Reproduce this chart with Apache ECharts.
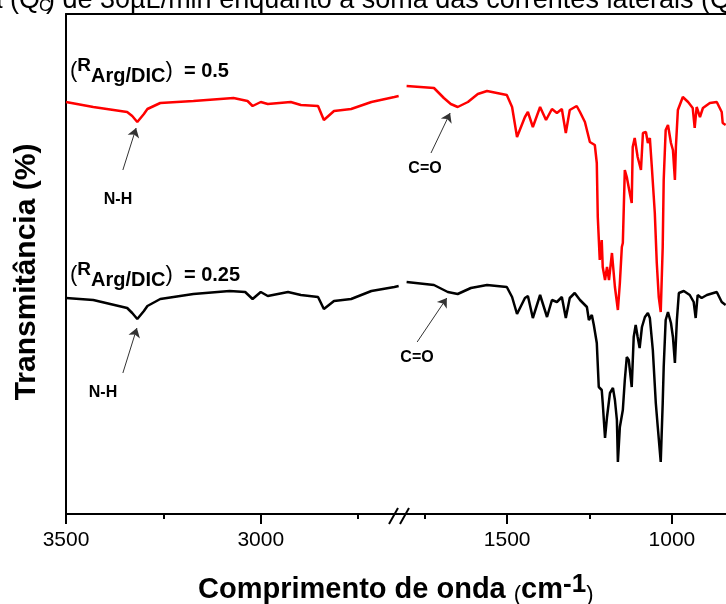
<!DOCTYPE html>
<html><head><meta charset="utf-8">
<script src="https://cdn.jsdelivr.net/npm/echarts@6/dist/echarts.min.js"></script>
<style>html,body{margin:0;padding:0;background:#fff}#c{width:726px;height:604px}</style>
</head><body><div id="c"></div>
<script>
// ---- data (wavenumber in cm-1, transmittance in arbitrary offset units) ----
const redLeftWn = [3500,3430,3343,3330,3317,3300,3291,3258,3173,3070,3034,3021,3000,2982,2923,2897,2853,2838,2812,2768,2716,2657,2646];
const redLeftT  = [412,407,402,398,392,400,405,411,413,416,413,408,412,410,412,409,408,394,403,405,412,417,418];
const blackLeftWn = [3500,3430,3343,3330,3317,3300,3291,3258,3173,3080,3040,3021,3000,2982,2930,2897,2853,2838,2812,2768,2716,2657,2646];
const blackLeftT  = [216,214,206,201,195,203,208,215,220,223,222,215,222,218,222,219,217,205,213,215,223,227,228];
const redRightWn = [1805,1722,1692,1671,1650,1619,1589,1561,1501,1485,1470,1446,1437,1422,1400,1382,1364,1349,1334,1322,1310,1289,
  1279,1264,1249,1234,1228,1225,1219,1213,1210,1203,1197,1191,1182,1179,1173,1164,1158,1152,1149,1143,1137,1128,1122,1119,1113,1104,1094,1088,1079,1073,1067,1061,1052,1046,1040,1034,1028,1025,1019,1012,1003,997,991,988,982,967,951,937,931,925,915,906,885,864,849,846,837];
const redRightT  = [428,426,416,410,407,412,420,423,419,407,377,397,402,387,407,394,405,401,405,381,404,408,
  402,392,372,369,351,297,254,274,247,234,247,234,261,262,227,204,231,267,271,344,337,321,311,367,376,357,344,381,382,371,376,347,301,251,217,202,267,334,384,389,371,364,334,367,404,417,412,406,386,407,397,406,411,412,402,391,389];
const blackRightWn = [1805,1722,1680,1650,1610,1561,1501,1485,1470,1446,1437,1422,1400,1379,1364,1349,1334,1322,1310,1295,
  1279,1270,1258,1252,1243,1237,1228,1222,1213,1210,1203,1197,1188,1179,1173,1167,1164,1158,1149,1143,1137,1131,1122,1116,1110,1104,1098,1091,1082,1073,1067,1058,1049,1043,1034,1028,1025,1019,1012,1003,997,991,985,979,964,946,934,928,922,910,894,864,849,837];
const blackRightT  = [232,229,222,220,226,229,227,217,200,216,218,196,219,197,214,212,217,196,216,221,
  214,211,207,194,199,189,171,127,124,111,76,97,121,126,114,94,52,87,104,134,157,154,127,177,189,177,166,187,197,201,196,164,111,87,52,111,147,194,202,191,177,151,194,221,223,219,212,196,219,216,219,222,212,209];

const leftTicksMajor = [3500, 3000];
const leftTicksMinor = [3250, 2750];
const rightTicksMajor = [1500, 1000];
const rightTicksMinor = [1750, 1250];

// annotation arrows: [fromWn, fromT, toWn, toT]
const arrowNHTop = [3354, 344, 3320, 386];
const arrowNHBottom = [3354, 141, 3318, 186];
const arrowCOTop = [1731, 361, 1673, 401];
const arrowCOBottom = [1773, 172, 1683, 216];

const labelTop = '0.5';
const labelBottom = '0.25';

function zip(a, b) { return a.map((v, i) => [v, b[i]]); }

const FONT = "'Liberation Sans', Arial, sans-serif";
const chart = echarts.init(document.getElementById('c'), null, {renderer: 'canvas'});

function baseX(grid, min, max) {
  return {
    type: 'value', gridIndex: grid, min: min, max: max, inverse: true,
    splitLine: {show: false}, axisPointer: {show: false}
  };
}
function arrow(a) {
  return [{coord: [a[0], a[1]], symbol: 'none'}, {coord: [a[2], a[3]], symbol: 'arrow'}];
}
function markArrows(list) {
  return {
    silent: true, animation: false,
    symbolSize: 9,
    label: {show: false},
    lineStyle: {color: '#333', width: 1, type: 'solid'},
    emphasis: {disabled: true},
    data: list.map(arrow)
  };
}

const L = [3500, 2640];
const R = [1822, 836];
const fmt = v => String(v);

const option = {
  animation: false,
  backgroundColor: '#fff',
  grid: [
    {left: 66, width: 335, top: 14, bottom: 90},
    {left: 401, right: 0, top: 14, bottom: 90}
  ],
  xAxis: [
    Object.assign(baseX(0, L[1], L[0]), {
      position: 'bottom',
      axisLine: {show: true, lineStyle: {color: '#000', width: 2}},
      axisTick: {show: true, length: 10, lineStyle: {color: '#000', width: 2}, customValues: leftTicksMajor},
      axisLabel: {show: true, color: '#000', fontSize: 21, fontFamily: FONT, margin: 16, formatter: fmt, customValues: leftTicksMajor}
    }),
    Object.assign(baseX(1, R[1], R[0]), {
      position: 'bottom',
      axisLine: {show: true, lineStyle: {color: '#000', width: 2}},
      axisTick: {show: true, length: 10, lineStyle: {color: '#000', width: 2}, customValues: rightTicksMajor},
      axisLabel: {show: true, color: '#000', fontSize: 21, fontFamily: FONT, margin: 16, formatter: fmt, customValues: rightTicksMajor}
    }),
    Object.assign(baseX(0, L[1], L[0]), {
      position: 'bottom',
      axisLine: {show: false},
      axisTick: {show: true, length: 5, lineStyle: {color: '#000', width: 2}, customValues: leftTicksMinor},
      axisLabel: {show: false}
    }),
    Object.assign(baseX(1, R[1], R[0]), {
      position: 'bottom',
      axisLine: {show: false},
      axisTick: {show: true, length: 5, lineStyle: {color: '#000', width: 2}, customValues: rightTicksMinor},
      axisLabel: {show: false}
    }),
    Object.assign(baseX(0, L[1], L[0]), {
      position: 'top',
      axisLine: {show: true, lineStyle: {color: '#000', width: 2}},
      axisTick: {show: false}, axisLabel: {show: false}
    }),
    Object.assign(baseX(1, R[1], R[0]), {
      position: 'top',
      axisLine: {show: true, lineStyle: {color: '#000', width: 2}},
      axisTick: {show: false}, axisLabel: {show: false}
    })
  ],
  yAxis: [
    {type: 'value', gridIndex: 0, min: 0, max: 500, position: 'left',
     axisLine: {show: true, lineStyle: {color: '#000', width: 2}},
     axisTick: {show: false}, axisLabel: {show: false}, splitLine: {show: false}},
    {type: 'value', gridIndex: 1, min: 0, max: 500, show: false, splitLine: {show: false}}
  ],
  series: [
    {type: 'line', xAxisIndex: 0, yAxisIndex: 0, data: zip(redLeftWn, redLeftT), showSymbol: false,
     lineStyle: {color: '#ff0000', width: 2.5}, itemStyle: {color: '#ff0000'}, silent: true,
     markLine: markArrows([arrowNHTop])},
    {type: 'line', xAxisIndex: 0, yAxisIndex: 0, data: zip(blackLeftWn, blackLeftT), showSymbol: false,
     lineStyle: {color: '#000', width: 2.5}, itemStyle: {color: '#000'}, silent: true,
     markLine: markArrows([arrowNHBottom])},
    {type: 'line', xAxisIndex: 1, yAxisIndex: 1, data: zip(redRightWn, redRightT), showSymbol: false,
     lineStyle: {color: '#ff0000', width: 2.5}, itemStyle: {color: '#ff0000'}, silent: true,
     markLine: markArrows([arrowCOTop])},
    {type: 'line', xAxisIndex: 1, yAxisIndex: 1, data: zip(blackRightWn, blackRightT), showSymbol: false,
     lineStyle: {color: '#000', width: 2.5}, itemStyle: {color: '#000'}, silent: true,
     markLine: markArrows([arrowCOBottom])}
  ],
  graphic: [
    // cropped document text at the very top
    {type: 'text', x: 40, y: 1, silent: true,
     style: {text: 'a (Q', font: '27px ' + FONT, fill: '#000', align: 'right', verticalAlign: 'middle'}},
    {type: 'text', x: 39, y: 6, silent: true,
     style: {text: 'C', font: '17px ' + FONT, fill: '#000', align: 'left', verticalAlign: 'middle'}},
    {type: 'text', x: 46, y: 1, silent: true,
     style: {text: ') de 30\u00b5L/min enquanto a soma das correntes laterais (Q', font: '27px ' + FONT, fill: '#000', align: 'left', verticalAlign: 'middle'}},
    // y axis title
    {type: 'text', x: 27, y: 272, rotation: Math.PI / 2, silent: true,
     style: {text: 'Transmit\u00e2ncia (%)', font: 'bold 30px ' + FONT, fill: '#000', align: 'center', verticalAlign: 'middle'}},
    // x axis title
    {type: 'text', x: 198, y: 590, silent: true,
     style: {text: '{a|Comprimento de onda }{p|(}{a|cm}{s|-1}{p|)}', align: 'left', verticalAlign: 'middle',
       rich: {
         a: {font: 'bold 29px ' + FONT, fill: '#000', lineHeight: 36},
         p: {font: '22px ' + FONT, fill: '#000', lineHeight: 36, verticalAlign: 'bottom', padding: [0, 0, 2, 0]},
         s: {font: 'bold 26px ' + FONT, fill: '#000', lineHeight: 16, verticalAlign: 'top'}
       }}},
    // R labels
    {type: 'text', x: 70, y: 71, silent: true,
     style: {text: '{p|(}{r|R}{s|Arg/DIC}{p|)}{e|  = ' + labelTop + '}', align: 'left', verticalAlign: 'middle',
       rich: {
         p: {font: '22px ' + FONT, fill: '#000', lineHeight: 30},
         r: {font: 'bold 19px ' + FONT, fill: '#000', lineHeight: 24, verticalAlign: 'top'},
         s: {font: 'bold 20px ' + FONT, fill: '#000', lineHeight: 22, verticalAlign: 'bottom'},
         e: {font: 'bold 20px ' + FONT, fill: '#000', lineHeight: 30}
       }}},
    {type: 'text', x: 70, y: 275, silent: true,
     style: {text: '{p|(}{r|R}{s|Arg/DIC}{p|)}{e|  = ' + labelBottom + '}', align: 'left', verticalAlign: 'middle',
       rich: {
         p: {font: '22px ' + FONT, fill: '#000', lineHeight: 30},
         r: {font: 'bold 19px ' + FONT, fill: '#000', lineHeight: 24, verticalAlign: 'top'},
         s: {font: 'bold 20px ' + FONT, fill: '#000', lineHeight: 22, verticalAlign: 'bottom'},
         e: {font: 'bold 20px ' + FONT, fill: '#000', lineHeight: 30}
       }}},
    // peak labels
    {type: 'text', x: 118, y: 200, silent: true,
     style: {text: 'N-H', font: 'bold 16px ' + FONT, fill: '#000', align: 'center', verticalAlign: 'middle'}},
    {type: 'text', x: 103, y: 393, silent: true,
     style: {text: 'N-H', font: 'bold 16px ' + FONT, fill: '#000', align: 'center', verticalAlign: 'middle'}},
    {type: 'text', x: 425, y: 169, silent: true,
     style: {text: 'C=O', font: 'bold 16px ' + FONT, fill: '#000', align: 'center', verticalAlign: 'middle'}},
    {type: 'text', x: 417, y: 358, silent: true,
     style: {text: 'C=O', font: 'bold 16px ' + FONT, fill: '#000', align: 'center', verticalAlign: 'middle'}},
    // axis break marks
    {type: 'line', silent: true, shape: {x1: 389, y1: 524, x2: 398, y2: 508}, style: {stroke: '#000', lineWidth: 2}},
    {type: 'line', silent: true, shape: {x1: 400, y1: 524, x2: 409, y2: 508}, style: {stroke: '#000', lineWidth: 2}}
  ]
};
chart.setOption(option);
</script>
</body></html>
